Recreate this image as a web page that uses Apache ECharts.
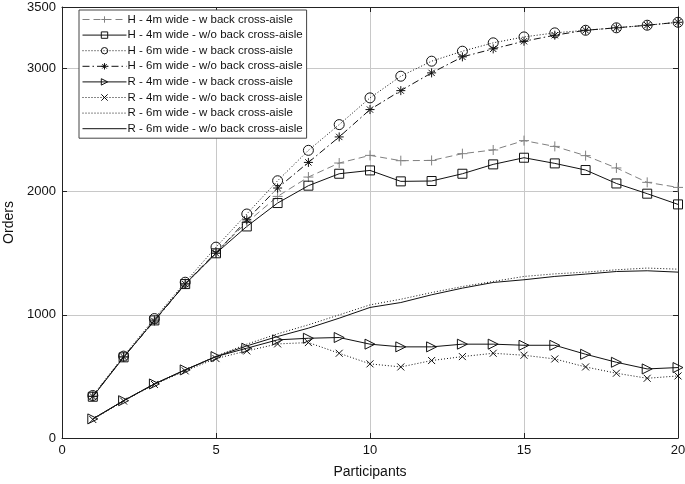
<!DOCTYPE html>
<html><head><meta charset="utf-8">
<script src="https://cdn.jsdelivr.net/npm/echarts@6/dist/echarts.min.js"></script>
<style>html,body{margin:0;padding:0;background:#fff}#c{width:685px;height:484px}</style>
</head><body><div id="c"></div>
<script>
const participants = [1,2,3,4,5,6,7,8,9,10,11,12,13,14,15,16,17,18,19,20];
const h4mW   = [340,660,960,1255,1510,1750,1962,2119,2233,2295,2252,2254,2309,2339,2415,2368,2293,2193,2076,2035];
const h4mWo  = [335,655,955,1250,1500,1718,1908,2049,2146,2173,2084,2087,2146,2222,2276,2230,2176,2067,1984,1897];
const h6mW   = [345,665,970,1265,1550,1819,2089,2336,2545,2762,2938,3060,3141,3209,3257,3290,3311,3331,3352,3376];
const h6mWo  = [338,658,950,1250,1500,1772,2030,2238,2445,2667,2821,2965,3095,3160,3222,3271,3311,3331,3352,3376];
const r4mW   = [155,303,439,553,661,729,797,810,816,762,740,740,762,762,753,753,680,615,561,572];
const r4mWo  = [150,300,435,545,645,707,764,775,688,602,577,629,661,688,672,642,577,526,485,504];
const r6mW   = [155,303,439,553,665,762,846,919,1000,1081,1127,1181,1230,1271,1312,1333,1347,1366,1380,1371];
const r6mWo  = [155,303,439,553,661,748,824,892,973,1060,1100,1163,1217,1263,1285,1312,1331,1352,1358,1347];
const seriesNames = [
  'H - 4m wide - w back cross-aisle',
  'H - 4m wide - w/o back cross-aisle',
  'H - 6m wide - w back cross-aisle',
  'H - 6m wide - w/o back cross-aisle',
  'R - 4m wide - w back cross-aisle',
  'R - 4m wide - w/o back cross-aisle',
  'R - 6m wide - w back cross-aisle',
  'R - 6m wide - w/o back cross-aisle'
];
const yTicks = [0,1000,2000,3000,3500];
const xTicks = [0,5,10,15,20];

const pair = arr => participants.map((p,i)=>[p,arr[i]]);
const PLUS = 'path://M5,0 L5,10 M0,5 L10,5';
const STAR = 'path://M5,0 L5,10 M0,5 L10,5 M1.5,1.5 L8.5,8.5 M8.5,1.5 L1.5,8.5';
const XMK = 'path://M0,0 L10,10 M10,0 L0,10';
const TRI = 'path://M0,0 L10,5 L0,10 Z';
const CIRC = 'path://M10,5 A5,5 0 1 1 0,5 A5,5 0 1 1 10,5 Z';
const RECT = 'path://M0,0 L10,0 L10,10 L0,10 Z';

function mk(name, data, color, dash, symbol, size){
  return {
    name, type:'line', data: pair(data),
    symbol: symbol || 'circle', symbolSize: size || 8, showSymbol: !!symbol,
    lineStyle:{color, width:1, type:dash},
    itemStyle: symbol ? {color:'rgba(255,255,255,0)', borderColor:color, borderWidth:1}
                      : {color:'rgba(255,255,255,0)', borderColor:'rgba(255,255,255,0)', borderWidth:0},
    emphasis:{disabled:true}, animation:false, z: 3
  };
}
const dotted=[1,2], dashed=[7,4], dashdot=[7,3,1.5,3];
const series = [
  mk(seriesNames[0], h4mW, '#808080', dashed, PLUS, 10),
  mk(seriesNames[1], h4mWo, '#111', 'solid', RECT, 9),
  mk(seriesNames[2], h6mW, '#111', dotted, CIRC, 10),
  mk(seriesNames[3], h6mWo, '#111', dashdot, STAR, 9),
  mk(seriesNames[4], r4mW, '#111', 'solid', TRI, 10),
  mk(seriesNames[5], r4mWo, '#111', dotted, XMK, 7),
  mk(seriesNames[6], r6mW, '#111', dotted, null),
  mk(seriesNames[7], r6mWo, '#111', 'solid', null)
];

const chart = echarts.init(document.getElementById('c'), null, {renderer:'canvas'});
const font = 'Liberation Sans, Arial, sans-serif';
chart.setOption({
  backgroundColor:'#fff',
  textStyle:{fontFamily:font},
  grid:{left:62, right:7, top:7, bottom:46, containLabel:false, outerBoundsMode:'none'},
  legend:{
    orient:'vertical', left:79, top:10, itemWidth:44, itemHeight:8, itemGap:2.6,
    padding:[3,4,3,3], borderColor:'#444', borderWidth:1, backgroundColor:'#fff',
    lineStyle:{width:1},
    itemStyle:{color:'rgba(255,255,255,0)', borderWidth:1},
    textStyle:{fontFamily:font, fontSize:11.5, color:'#111', padding:[0,0,0,-4], lineHeight:13},
    data: seriesNames, selectedMode:false
  },
  xAxis:[{
    type:'value', min:0, max:20, interval:5, name:'Participants', nameLocation:'middle', nameGap:27,
    nameTextStyle:{fontSize:14, color:'#111'},
    axisLine:{show:true, onZero:false, lineStyle:{color:'#222', width:1}},
    axisTick:{show:true, inside:true, length:5, lineStyle:{color:'#222'}},
    axisLabel:{fontSize:13, color:'#111', margin:6, formatter:v=>xTicks.includes(v)?String(v):''},
    splitLine:{show:true, lineStyle:{color:'#c8c8c8', width:1}}
  },{
    type:'value', min:0, max:20, interval:5, position:'top',
    axisLine:{show:true, onZero:false, lineStyle:{color:'#222', width:1}},
    axisTick:{show:true, inside:true, length:5, lineStyle:{color:'#222'}},
    axisLabel:{show:false}, splitLine:{show:false}
  }],
  yAxis:[{
    type:'value', min:0, max:3500, interval:1000, name:'Orders', nameLocation:'middle', nameGap:42,
    nameTextStyle:{fontSize:14, color:'#111'},
    axisLine:{show:true, onZero:false, lineStyle:{color:'#222', width:1}},
    axisTick:{show:true, inside:true, length:5, lineStyle:{color:'#222'}},
    axisLabel:{fontSize:13, color:'#111', margin:6, showMaxLabel:true, formatter:v=>yTicks.includes(v)?String(v):''},
    splitLine:{show:true, lineStyle:{color:'#c8c8c8', width:1}}
  },{
    type:'value', min:0, max:3500, interval:1000, position:'right',
    axisLine:{show:true, onZero:false, lineStyle:{color:'#222', width:1}},
    axisTick:{show:true, inside:true, length:5, lineStyle:{color:'#222'}},
    axisLabel:{show:false}, splitLine:{show:false}
  }],
  series
});
</script></body></html>
